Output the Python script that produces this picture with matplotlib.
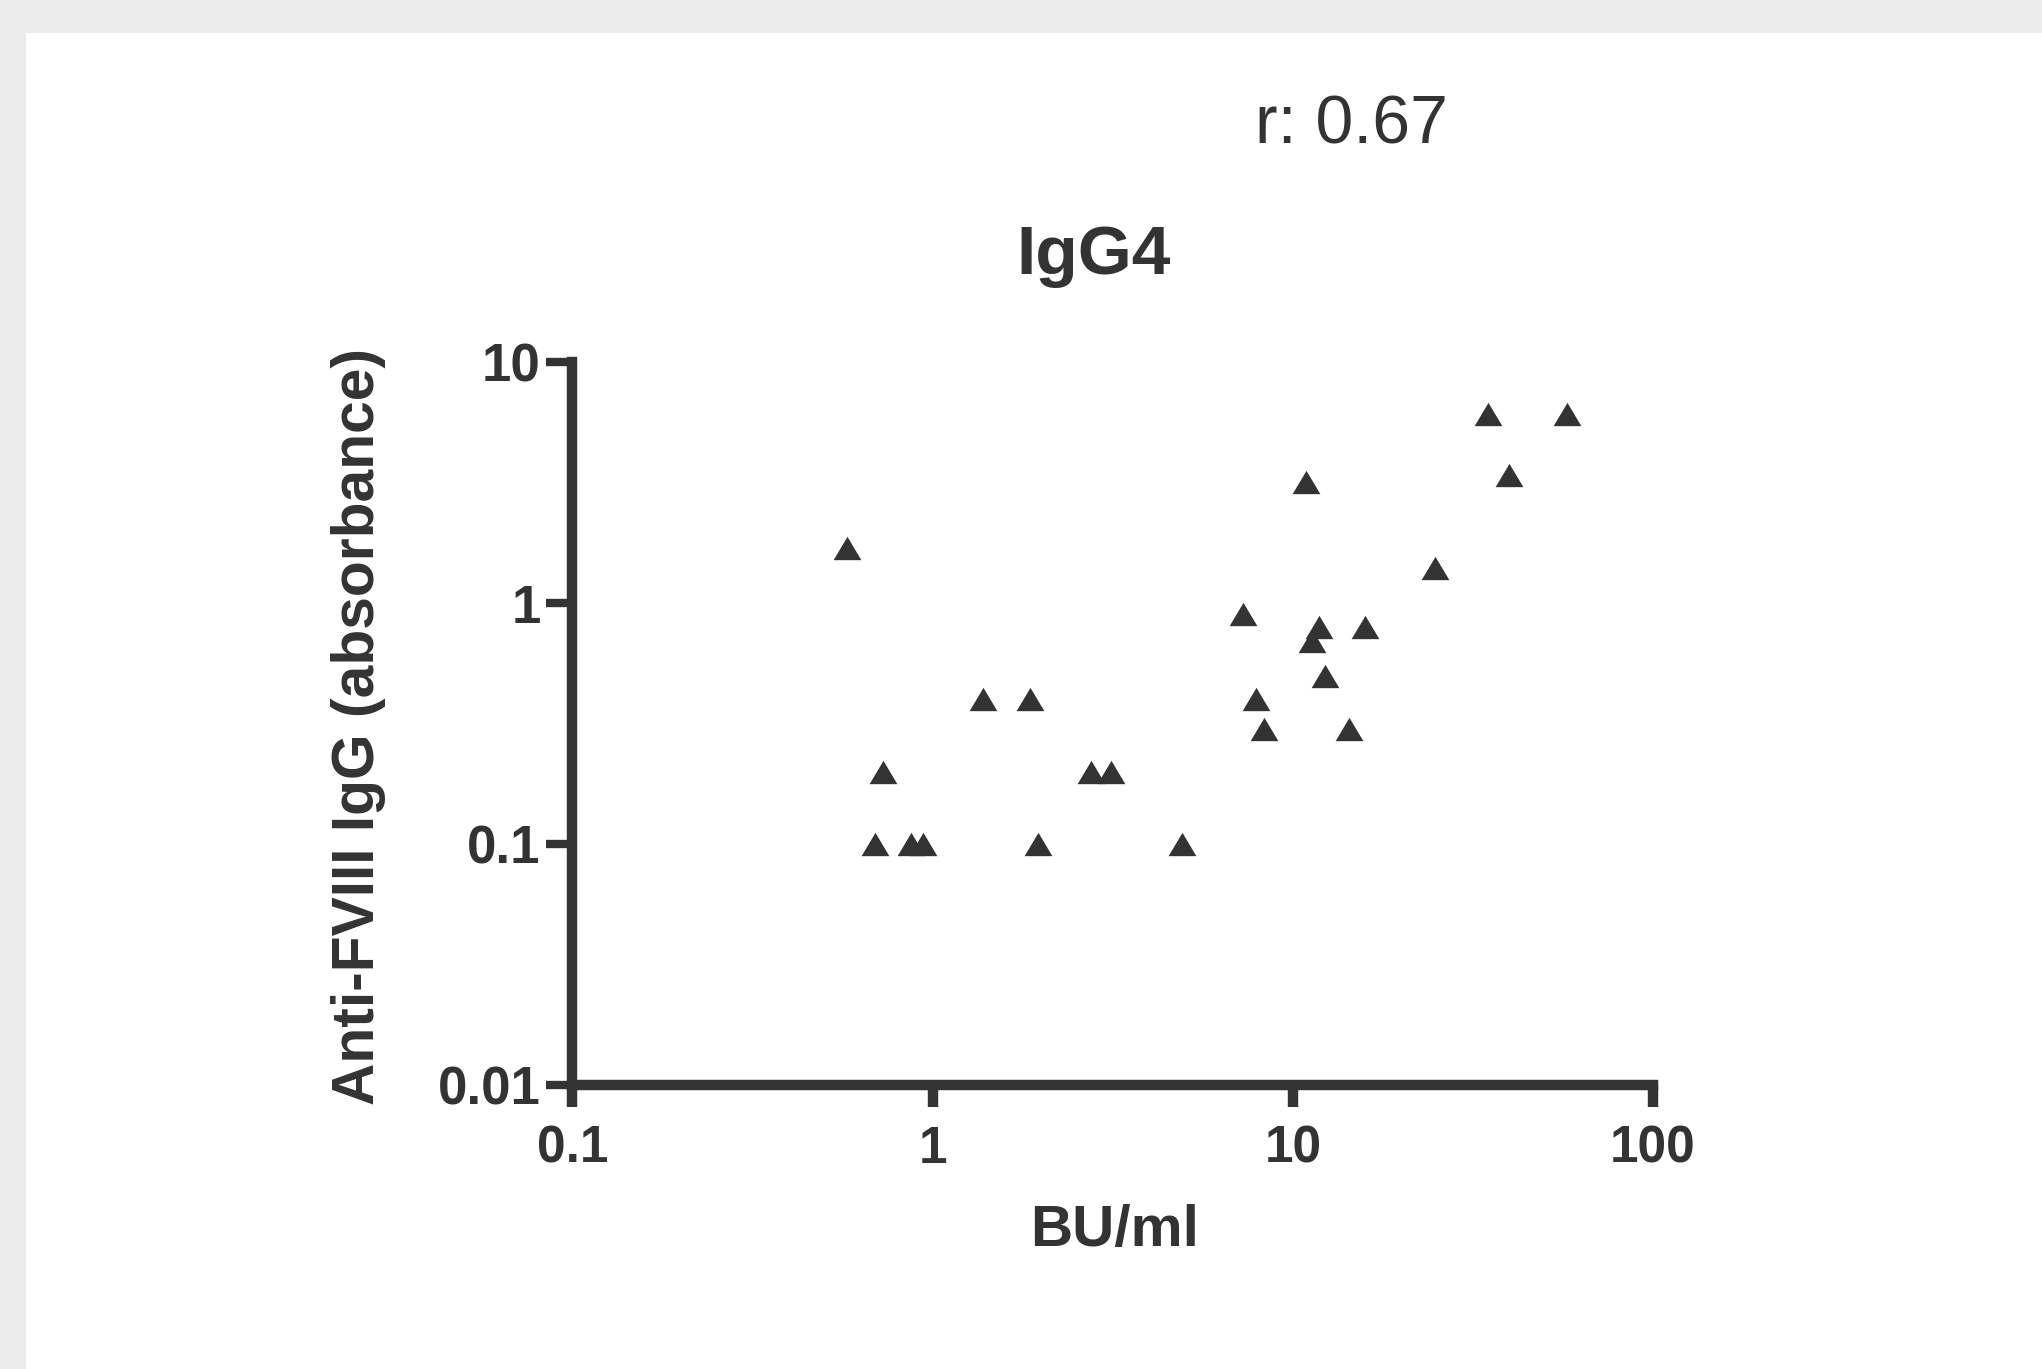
import matplotlib
matplotlib.use("Agg")
import matplotlib.pyplot as plt
from matplotlib.patches import Rectangle
from matplotlib.ticker import FixedLocator, FixedFormatter, NullLocator

plt.rcParams["font.family"] = ["Liberation Sans", "DejaVu Sans"]

# anti-FVIII inhibitor titre (BU/ml) vs IgG4 absorbance
bu_ml = [0.69, 0.87, 0.94, 1.96, 4.93, 0.73, 2.76, 3.12, 8.33, 14.3, 1.38, 1.86,
         7.88, 12.3, 11.3, 11.8, 15.9, 7.25, 24.8, 0.58, 10.9, 39.9, 34.9, 57.7]
absorbance = [0.1, 0.1, 0.1, 0.1, 0.1, 0.2, 0.2, 0.2, 0.3, 0.3, 0.4, 0.4,
              0.4, 0.5, 0.7, 0.8, 0.8, 0.9, 1.4, 1.7, 3.2, 3.4, 6.1, 6.1]

x_ticks = [0.1, 1, 10, 100]
x_labels = ["0.1", "1", "10", "100"]
y_ticks = [0.01, 0.1, 1, 10]
y_labels = ["0.01", "0.1", "1", "10"]

title = "IgG4"
corr_text = "r: 0.67"
xlabel = "BU/ml"
ylabel = "Anti-FVIII IgG (absorbance)"

ink = "#333333"

fig = plt.figure(figsize=(20.42, 13.69), dpi=100)
fig.patch.set_facecolor("#ebebeb")
fig.patches.append(Rectangle((26 / 2042, 0), 1, 1 - 33 / 1369,
                             transform=fig.transFigure, facecolor="white",
                             edgecolor="none", zorder=-10))

ax = fig.add_axes([0.28036, 0.20745, 0.52914, 0.52776])
ax.set_facecolor("none")
ax.set_xscale("log")
ax.set_yscale("log")
ax.set_xlim(0.1, 100)
ax.set_ylim(0.01, 10)

# slightly flattened triangle like the original
tri = [(0, 0.84), (-1, -0.84), (1, -0.84)]
ax.plot(bu_ml, absorbance, linestyle="none", marker=tri, markersize=20,
        color=ink, markeredgewidth=0, clip_on=False)

for side in ["top", "right"]:
    ax.spines[side].set_visible(False)
for side in ["left", "bottom"]:
    ax.spines[side].set_linewidth(7.5)
    ax.spines[side].set_color(ink)
    ax.spines[side].set_capstyle("projecting")

ax.xaxis.set_major_locator(FixedLocator(x_ticks))
ax.xaxis.set_major_formatter(FixedFormatter(x_labels))
ax.yaxis.set_major_locator(FixedLocator(y_ticks))
ax.yaxis.set_major_formatter(FixedFormatter(y_labels))
ax.xaxis.set_minor_locator(NullLocator())
ax.yaxis.set_minor_locator(NullLocator())

ax.tick_params(axis="x", direction="out", length=15.5, width=7.5, color=ink,
               pad=13, labelsize=37, labelcolor=ink)
ax.tick_params(axis="y", direction="out", length=19, width=6, color=ink,
               pad=4, labelsize=38, labelcolor=ink)
for lab in ax.get_xticklabels() + ax.get_yticklabels():
    lab.set_fontweight("bold")

fig.text(0.5357, 0.8002, title, ha="center", va="baseline", fontsize=50,
         fontweight="bold", color=ink)
fig.text(0.6616, 0.8955, corr_text, ha="center", va="baseline", fontsize=49,
         color=ink)
fig.text(0.546, 0.0898, xlabel, ha="center", va="baseline", fontsize=42,
         fontweight="bold", color=ink)
fig.text(0.1755, 0.469, ylabel, ha="center", va="center", rotation=90,
         fontsize=42.3, fontweight="bold", color=ink)

fig.savefig("out.png", dpi=100, facecolor=fig.get_facecolor())
